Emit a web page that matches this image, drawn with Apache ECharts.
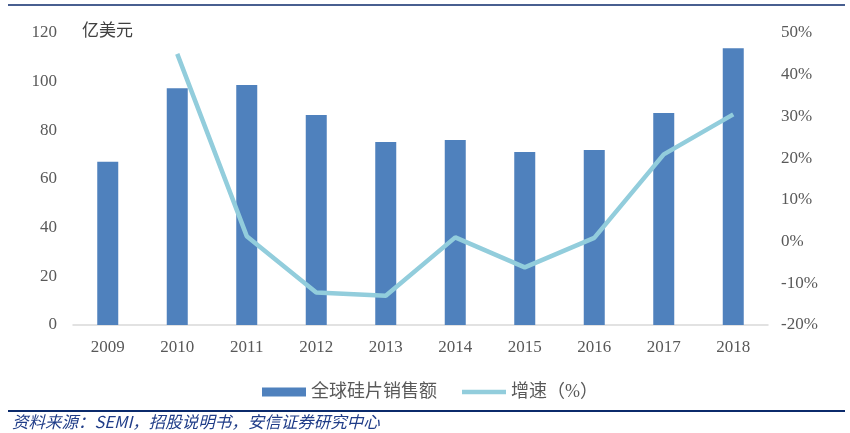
<!DOCTYPE html>
<html><head><meta charset="utf-8">
<script src="https://cdn.jsdelivr.net/npm/echarts@6/dist/echarts.min.js"></script>
<style>html,body{margin:0;padding:0;background:#fff}#c{width:850px;height:433px}</style>
</head><body><div id="c"></div>
<script>
const years = ['2009','2010','2011','2012','2013','2014','2015','2016','2017','2018'];
const sales = [67.1, 97.3, 98.6, 86.3, 75.2, 76.0, 71.1, 71.9, 87.1, 113.7];
const growth = [null, 45.0, 1.3, -12.2, -13.0, 1.0, -6.2, 0.9, 20.9, 30.5];
const leftTicks = {min: 0, max: 120, interval: 20};
const rightTicks = {min: -20, max: 50, interval: 10};
const barName = '全球硅片销售额';
const lineName = '增速（%）';
const unitLabel = '亿美元';
const sourceText = '资料来源：SEMI，招股说明书，安信证券研究中心';

const chart = echarts.init(document.getElementById('c'));
const serif = '"Liberation Serif","Times New Roman",serif';
const cjk = '"Liberation Serif","Noto Sans CJK SC",serif';
chart.setOption({
  animation: false,
  grid: {left: 73, right: 82, top: 33, bottom: 108},
  legend: {
    top: 378, left: 257,
    itemGap: 25, itemWidth: 44, itemHeight: 9,
    textStyle: {fontFamily: cjk, fontSize: 18, color: '#595959'},
    data: [
      {name: barName, icon: 'rect'},
      {name: lineName, icon: 'path://M0,0 L49,0 L49,5 L0,5 Z'}
    ]
  },
  xAxis: {
    type: 'category', data: years,
    axisLine: {lineStyle: {color: '#D9D9D9', width: 1.5}},
    axisTick: {show: false},
    axisLabel: {fontFamily: serif, fontSize: 17, color: '#595959', margin: 14}
  },
  yAxis: [
    {type: 'value', min: leftTicks.min, max: leftTicks.max, interval: leftTicks.interval,
     splitLine: {show: false}, axisLine: {show: false}, axisTick: {show: false},
     axisLabel: {fontFamily: serif, fontSize: 17, color: '#595959', margin: 16}},
    {type: 'value', min: rightTicks.min, max: rightTicks.max, interval: rightTicks.interval,
     splitLine: {show: false}, axisLine: {show: false}, axisTick: {show: false},
     axisLabel: {fontFamily: serif, fontSize: 17, color: '#595959', margin: 13, formatter: '{value}%'}}
  ],
  series: [
    {name: barName, type: 'bar', data: sales, barWidth: 21, yAxisIndex: 0,
     itemStyle: {color: '#4F81BD'}},
    {name: lineName, type: 'line', data: growth, yAxisIndex: 1, showSymbol: false,
     symbol: 'none', connectNulls: false,
     lineStyle: {color: '#92CDDC', width: 4.5}, itemStyle: {color: '#92CDDC'}}
  ],
  graphic: [
    {type: 'line', shape: {x1: 8, y1: 5, x2: 845, y2: 5}, style: {stroke: '#0B2A6B', lineWidth: 1.5}},
    {type: 'line', shape: {x1: 8, y1: 411, x2: 845, y2: 411}, style: {stroke: '#0B2A6B', lineWidth: 2}},
    {type: 'text', left: 82, top: 21, style: {text: unitLabel, font: '17px "Noto Sans CJK SC",serif', fill: '#404040'}},
    {type: 'text', left: 12, top: 413, style: {text: sourceText, font: 'italic 16.5px "Noto Sans CJK SC",sans-serif', fill: '#1F3C88'}}
  ]
});
</script></body></html>
